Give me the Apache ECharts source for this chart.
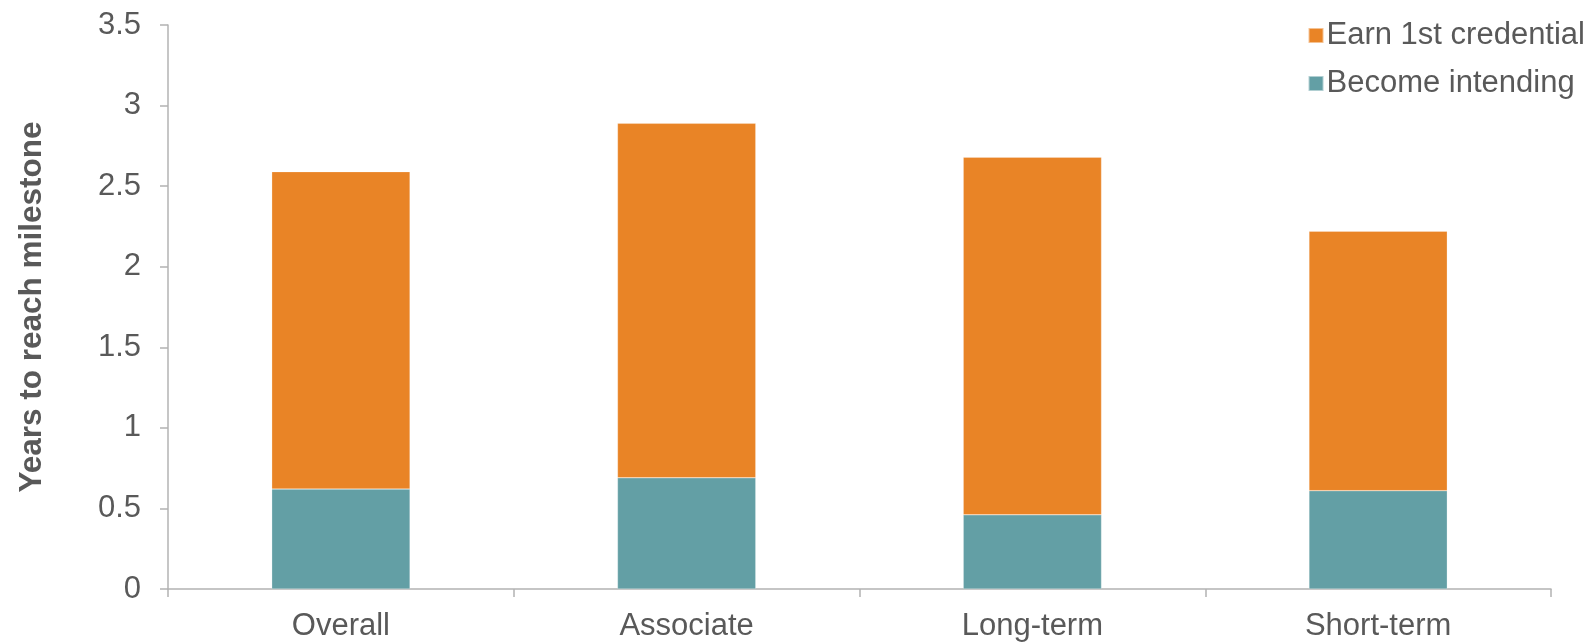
<!DOCTYPE html>
<html>
<head>
<meta charset="utf-8">
<script src="https://cdn.jsdelivr.net/npm/echarts@6/dist/echarts.min.js"></script>
<style>
  html, body { margin: 0; padding: 0; background: #fff; }
  #main { width: 1593px; height: 643px; }
</style>
</head>
<body>
<div id="main"></div>
<script>
// 类目与数据
var categories = ['Overall', 'Associate', 'Long-term', 'Short-term'];
var becomeIntending = [0.62, 0.69, 0.46, 0.61];
var earnCredential = [1.97, 2.20, 2.22, 1.61];
var yTicks = { min: 0, max: 3.5, interval: 0.5 };

var labelColor = '#595959';
var axisColor = '#b3b3b3';
var font = 'Liberation Sans, Arial, sans-serif';

var option = {
    animation: false,
    backgroundColor: '#ffffff',
    textStyle: { fontFamily: font },
    grid: { left: 168, right: 42, top: 25, bottom: 54 },
    legend: {
        orient: 'vertical',
        right: 3,
        top: 15,
        itemWidth: 15,
        itemHeight: 15,
        itemGap: 17,
        icon: 'rect',
        data: ['Earn 1st credential', 'Become intending'],
        textStyle: { fontSize: 31, color: labelColor, fontFamily: font, padding: [0, 0, 0, -2] }
    },
    xAxis: {
        type: 'category',
        data: categories,
        axisLine: { lineStyle: { color: axisColor, width: 1.5 } },
        axisTick: { show: true, length: 8, alignWithLabel: false, lineStyle: { color: axisColor, width: 1.5 } },
        axisLabel: { fontSize: 31, color: labelColor, margin: 22, fontFamily: font }
    },
    yAxis: {
        type: 'value',
        min: yTicks.min,
        max: yTicks.max,
        interval: yTicks.interval,
        name: 'Years to reach milestone',
        nameLocation: 'middle',
        nameGap: 120,
        nameTextStyle: { fontSize: 31.5, fontWeight: 'bold', color: labelColor, fontFamily: font },
        splitLine: { show: false },
        axisLine: { show: true, lineStyle: { color: axisColor, width: 1.5 } },
        axisTick: { show: true, length: 8, lineStyle: { color: axisColor, width: 1.5 } },
        axisLabel: { fontSize: 31, color: labelColor, margin: 27, fontFamily: font }
    },
    series: [{
        name: 'Become intending',
        type: 'bar',
        stack: 'total',
        barWidth: '40%',
        itemStyle: { color: '#639fa5', borderColor: 'rgba(255,255,255,0.5)', borderWidth: 0.5 },
        data: becomeIntending
    }, {
        name: 'Earn 1st credential',
        type: 'bar',
        stack: 'total',
        barWidth: '40%',
        itemStyle: { color: '#e98426', borderColor: 'rgba(255,255,255,0.5)', borderWidth: 0.5 },
        data: earnCredential
    }]
};

var myChart = echarts.init(document.getElementById('main'));
myChart.setOption(option);
</script>
</body>
</html>
